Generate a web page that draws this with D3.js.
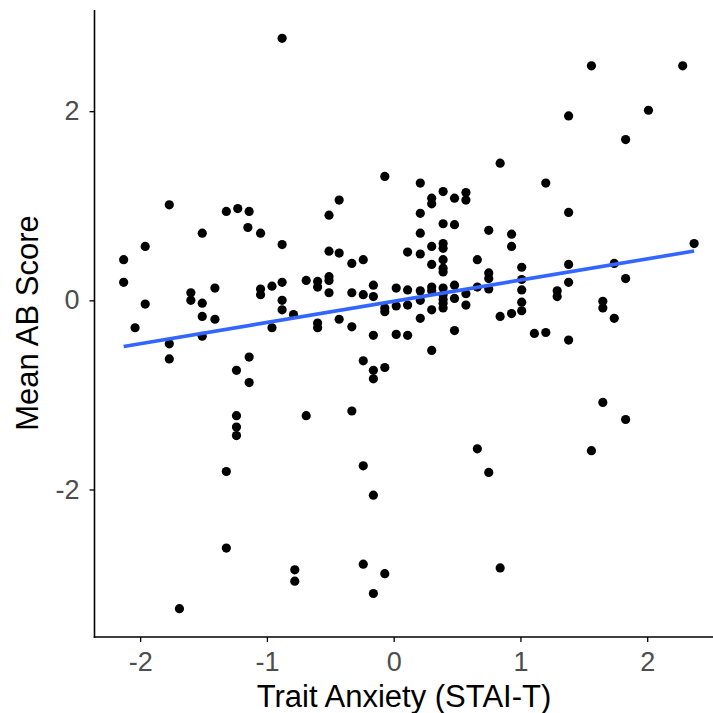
<!DOCTYPE html>
<html lang="en">

<head>
    <meta charset="UTF-8">
    <title>Trait Anxiety vs Mean AB Score</title>
    <script src="https://cdn.jsdelivr.net/npm/d3@7"></script>

    <style>
        body { margin: 0; background: #fff; }
        svg { font-family: "Liberation Sans", Arial, sans-serif; }
        .axis path, .axis line { stroke: #000; }
        .axis text { fill: #4d4d4d; font-size: 27px; }
        .title { fill: #000; font-size: 31px; }
    </style>
</head>

<body>

    <svg width="713" height="713"></svg>

    <script>

        // Trait anxiety (STAI-T, standardised) for each participant
        var anxiety = [
            -1.77, -1.32, -1.23, -1.14, -0.88, -0.07, -0.43, -0.51, 0.84, 0.21,
            1.20, 0.30, 0.39, 0.48, 0.57, 0.57, 0.30, 0.21, 1.56, 2.28,
            1.38, 2.01, 1.83, 1.38, -1.15, -1.51, -1.96, -2.13, -2.13, -1.60,
            -1.60, -1.41, -1.96, -1.51, -1.51, -1.41, -2.04, -1.77, -1.51, -1.77,
            -1.14, -1.24, -1.14, -1.24, -1.24, -1.24, -1.32, -1.32, -1.69, -1.05,
            -0.88, -0.51, -0.43, -0.33, -0.24, 0.11, -1.05, -1.05, -0.96, -0.88,
            -0.69, -0.60, -0.60, -0.51, -0.51, -0.51, -0.33, -0.24, -0.16, -0.16,
            0.02, 0.11, -0.88, -0.88, -0.79, -0.96, -0.60, -0.60, -0.43, -0.33,
            -0.07, -0.07, 0.02, 0.11, -0.16, 0.02, 0.11, -0.24, -0.16, -0.16,
            -0.07, -0.69, -0.33, -0.24, -0.16, -0.78, -0.78, -0.24, -0.07, -0.16,
            0.39, 0.48, 0.21, 0.75, 0.93, 0.93, 0.21, 0.30, 0.39, 0.39,
            0.30, 0.39, 0.39, 0.39, 0.66, 1.01, 0.75, 0.75, 1.01, 0.21,
            0.21, 0.30, 0.30, 0.39, 0.39, 0.39, 0.39, 0.39, 0.48, 0.48,
            0.57, 0.66, 0.75, 1.01, 1.29, 1.29, 0.30, 0.57, 0.84, 0.93,
            1.01, 1.01, 0.21, 0.48, 0.30, 1.11, 1.20, 1.38, 1.38, 1.38,
            2.37, 1.74, 1.83, 1.65, 1.65, 1.74, 1.65, 1.83, 0.66, 0.75,
            0.84, 1.56
        ];

        // Mean attentional bias score, same order
        var abScore = [
            1.01, 0.94, 0.97, 0.94, 2.77, 1.31, 1.06, 0.90, 1.45, 1.24,
            1.24, 1.08, 1.15, 1.08, 1.14, 1.06, 1.02, 0.92, 2.48, 2.48,
            1.95, 2.01, 1.70, 0.93, 0.77, 0.71, 0.57, 0.43, 0.19, 0.08,
            0.00, 0.13, -0.04, -0.03, -0.17, -0.20, -0.29, -0.46, -0.38, -0.62,
            -0.60, -0.74, -0.87, -1.22, -1.34, -1.43, -1.81, -2.62, -3.26, 0.71,
            0.59, 0.52, 0.50, 0.39, 0.43, 0.51, 0.12, 0.06, 0.15, 0.19,
            0.21, 0.20, 0.14, 0.25, 0.21, 0.08, 0.08, 0.06, 0.16, 0.04,
            0.13, 0.11, 0.00, -0.10, -0.15, -0.29, -0.24, -0.29, -0.20, -0.28,
            -0.08, -0.12, -0.06, -0.05, -0.37, -0.36, -0.37, -0.64, -0.74, -0.83,
            -0.71, -1.22, -1.17, -1.75, -2.06, -2.85, -2.97, -2.79, -2.89, -3.10,
            0.81, 0.80, 0.71, 0.74, 0.70, 0.57, 0.49, 0.57, 0.60, 0.55,
            0.38, 0.43, 0.34, 0.30, 0.43, 0.35, 0.29, 0.23, 0.22, 0.10,
            0.00, 0.14, 0.10, 0.13, 0.06, 0.01, -0.03, -0.08, 0.16, 0.02,
            0.07, 0.14, 0.12, 0.11, 0.10, 0.04, -0.10, -0.05, -0.17, -0.14,
            -0.02, -0.11, -0.19, -0.32, -0.53, -0.35, -0.34, 0.38, 0.19, -0.42,
            0.60, 0.39, 0.23, -0.01, -0.08, -0.19, -1.08, -1.26, -1.57, -1.82,
            -2.83, -1.59
        ];

        var xTicks = [-2, -1, 0, 1, 2];
        var yTicks = [-2, 0, 2];

        var points = anxiety.map(function (d, i) { return { x: d, y: abScore[i] }; });

        var svg = d3.select("svg");

        var x = d3.scaleLinear().domain([-2.36, 2.59]).range([94.5, 722]);
        var y = d3.scaleLinear().domain([-3.56, 3.07]).range([637, 10]);

        // least squares fit, like geom_smooth(method = "lm")
        var mx = d3.mean(anxiety), my = d3.mean(abScore);
        var sxy = d3.sum(points, function (d) { return (d.x - mx) * (d.y - my); });
        var sxx = d3.sum(points, function (d) { return (d.x - mx) * (d.x - mx); });
        var slope = sxy / sxx,
            intercept = my - slope * mx;
        var xExt = d3.extent(anxiety);

        svg.append("g")
            .attr("class", "points")
            .selectAll("circle")
            .data(points)
            .enter().append("circle")
            .attr("cx", function (d) { return x(d.x); })
            .attr("cy", function (d) { return y(d.y); })
            .attr("r", 4.6)
            .attr("fill", "#000");

        svg.append("line")
            .attr("x1", x(xExt[0]))
            .attr("y1", y(intercept + slope * xExt[0]))
            .attr("x2", x(xExt[1]))
            .attr("y2", y(intercept + slope * xExt[1]))
            .attr("stroke", "#3366ff")
            .attr("stroke-width", 3.6);

        var xAxis = svg.append("g")
            .attr("class", "axis")
            .attr("transform", "translate(0,637)")
            .call(d3.axisBottom(x).tickValues(xTicks).tickSize(5).tickPadding(10)
                .tickFormat(function (d) { return d; }));

        var yAxis = svg.append("g")
            .attr("class", "axis")
            .attr("transform", "translate(94.5,0)")
            .call(d3.axisLeft(y).tickValues(yTicks).tickSize(5).tickPadding(10)
                .tickFormat(function (d) { return d; }));

        xAxis.select(".domain").attr("d", "M93.7,0H713").attr("stroke-width", 1.6);
        yAxis.select(".domain").attr("d", "M0,10V637.8").attr("stroke-width", 1.6);
        svg.selectAll(".axis .tick line").attr("stroke", "#333").attr("stroke-width", 1.3);
        svg.selectAll(".axis text").attr("font-family", null).attr("font-size", null);

        svg.append("text")
            .attr("class", "title")
            .attr("x", 404)
            .attr("y", 707)
            .attr("text-anchor", "middle")
            .text("Trait Anxiety (STAI-T)");

        svg.append("text")
            .attr("class", "title")
            .attr("transform", "translate(38,323) rotate(-90)")
            .attr("text-anchor", "middle")
            .text("Mean AB Score");

    </script>

</body>

</html>
